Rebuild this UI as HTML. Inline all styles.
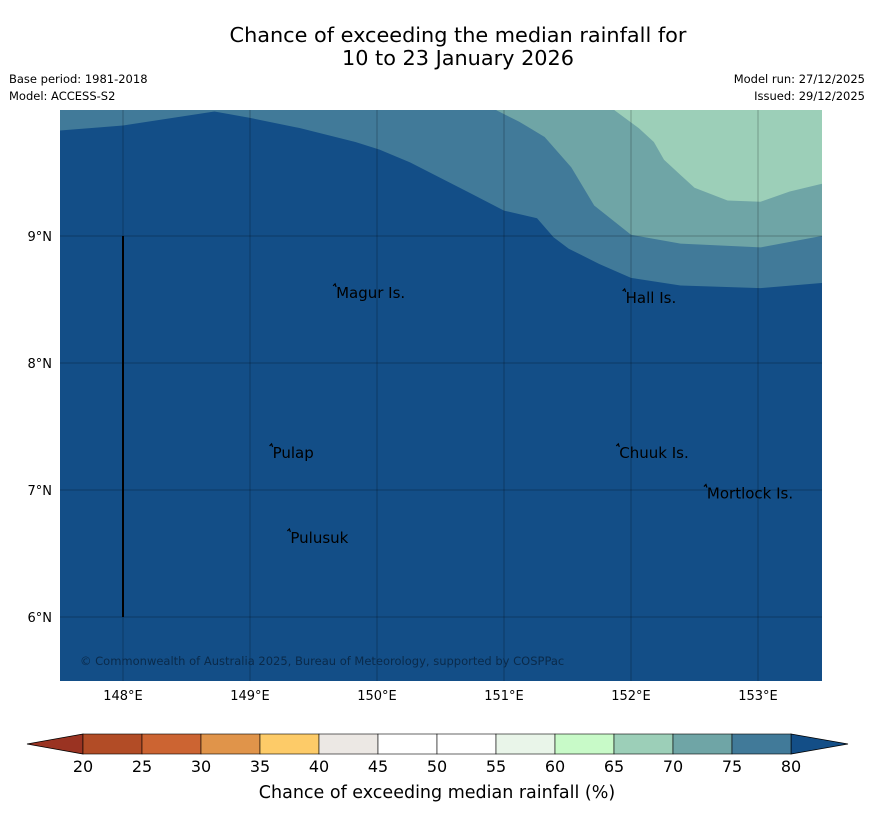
<!DOCTYPE html>
<html><head><meta charset="utf-8"><style>
body{margin:0;background:#fff;font-family:"Liberation Sans","DejaVu Sans",sans-serif;}
</style></head><body>
<svg id="c" width="873" height="816" xmlns="http://www.w3.org/2000/svg" style="font-family:'DejaVu Sans','Liberation Sans',sans-serif">
<text x="458" y="42" text-anchor="middle" font-size="20.8">Chance of exceeding the median rainfall for</text>
<text x="458" y="65" text-anchor="middle" font-size="20.8">10 to 23 January 2026</text>
<text x="9" y="83" font-size="11.5">Base period: 1981-2018</text>
<text x="9" y="100" font-size="11.5">Model: ACCESS-S2</text>
<text x="865" y="83" font-size="11.5" text-anchor="end">Model run: 27/12/2025</text>
<text x="865" y="100" font-size="11.5" text-anchor="end">Issued: 29/12/2025</text>
<g id="map"></g>
<g id="cbar"></g>
<text x="437" y="798" text-anchor="middle" font-size="17.5">Chance of exceeding median rainfall (%)</text>
</svg>
<script>
const lonTicks=[148,149,150,151,152,153];
const latTicks=[6,7,8,9];
const b80Lon=[147.5,148,148.72,149,149.39,149.83,150.02,150.26,150.73,151.0,151.26,151.39,151.51,151.75,152,152.39,153.02,153.5];
const b80Lat=[9.83,9.87,9.98,9.93,9.85,9.74,9.68,9.58,9.34,9.20,9.14,8.99,8.90,8.78,8.67,8.61,8.59,8.63];
const b75Lon=[150.94,151.12,151.32,151.53,151.71,152,152.39,153.02,153.5];
const b75Lat=[9.99,9.90,9.78,9.54,9.24,9.01,8.94,8.91,9.0];
const b70Lon=[151.87,152.06,152.18,152.26,152.39,152.5,152.76,153.02,153.25,153.5];
const b70Lat=[9.99,9.85,9.74,9.6,9.48,9.38,9.28,9.27,9.35,9.41];
const places=["Magur Is.","Hall Is.","Pulap","Chuuk Is.","Mortlock Is.","Pulusuk"];
const placeLon=[149.67,151.95,149.17,151.9,152.59,149.31];
const placeLat=[8.56,8.52,7.3,7.3,6.98,6.63];
const cbVals=[20,25,30,35,40,45,50,55,60,65,70,75,80];
const cbColors=["#b24c26","#cc6432","#e0944a","#fdcb68","#ece8e4","#ffffff","#ffffff","#e9f5e9","#c8fac8","#9ccfb8","#6fa5a6","#417a99"];
const NS="http://www.w3.org/2000/svg";
const X0=60,X1=822,Y0=110,Y1=681;
const xs=lon=>123+(lon-148)*127;
const ys=lat=>236-(lat-9)*127;
function mk(t,a,p){const e=document.createElementNS(NS,t);for(const k in a)e.setAttribute(k,a[k]);p.appendChild(e);return e;}
const map=document.getElementById('map');
const clip=mk('clipPath',{id:'mc'},map);mk('rect',{x:X0,y:Y0,width:X1-X0,height:Y1-Y0},clip);
const g=mk('g',{'clip-path':'url(#mc)'},map);
const bg=mk('rect',{x:X0,y:Y0,width:X1-X0,height:Y1-Y0,fill:'#134e87'},g);

function band(lons,lats,col,name){
 let d='M'+xs(lons[0])+','+(Y0-5);
 for(let i=0;i<lons.length;i++)d+=' L'+xs(lons[i])+','+ys(lats[i]);
 d+=' L'+(X1+5)+','+ys(lats[lats.length-1])+' L'+(X1+5)+','+(Y0-5)+'Z';
 const p=mk('path',{d:d,fill:col},g);
 
}
band(b80Lon,b80Lat,'#417a99','band-75-80');
band(b75Lon,b75Lat,'#6fa5a6','band-70-75');
band(b70Lon,b70Lat,'#9ccfb8','band-65-70');
lonTicks.forEach(v=>{const l=mk('line',{x1:xs(v),x2:xs(v),y1:Y0,y2:Y1,stroke:'#000','stroke-opacity':0.25,'stroke-width':1},g);
 
 const t=mk('text',{x:xs(v),y:700,'text-anchor':'middle','font-size':13},map);t.textContent=v+'°E';
 });
latTicks.forEach(v=>{const l=mk('line',{x1:X0,x2:X1,y1:ys(v),y2:ys(v),stroke:'#000','stroke-opacity':0.25,'stroke-width':1},g);
 
 const t=mk('text',{x:52,y:ys(v)+5,'text-anchor':'end','font-size':13},map);t.textContent=v+'°N';
 });
const vl=mk('line',{x1:xs(148),x2:xs(148),y1:ys(9),y2:ys(6),stroke:'#000','stroke-width':2},g);

places.forEach((n,i)=>{const x=xs(placeLon[i]),y=ys(placeLat[i]);
 const m=mk('path',{d:`M${x-2},${y-6} l2,-2 l1,3`,stroke:'#000',fill:'none','stroke-width':1.2},g);
 
 const t=mk('text',{x:x+1,y:y+6,'font-size':15},g);t.textContent=n;
 });
const cp=mk('text',{x:80,y:665,'font-size':11.5,fill:'#0a2a4a'},g);cp.textContent='© Commonwealth of Australia 2025, Bureau of Meteorology, supported by COSPPac';

const cb=document.getElementById('cbar');
const cx=v=>83+(v-20)*59/5, CY0=734, CY1=754;
const lt=mk('path',{d:`M${cx(20)},${CY0} L27,744 L${cx(20)},${CY1}Z`,fill:'#9a3322',stroke:'#000','stroke-width':0.8},cb);

const rt=mk('path',{d:`M${cx(80)},${CY0} L848,744 L${cx(80)},${CY1}Z`,fill:'#134e87',stroke:'#000','stroke-width':0.8},cb);

cbColors.forEach((c,i)=>{const r=mk('rect',{x:cx(cbVals[i]),y:CY0,width:cx(cbVals[i+1])-cx(cbVals[i]),height:CY1-CY0,fill:c,stroke:'#000','stroke-width':0.6},cb);
 });
cbVals.forEach(v=>{const t=mk('text',{x:cx(v),y:772,'text-anchor':'middle','font-size':16},cb);t.textContent=v;
 });
</script>
</body></html>
